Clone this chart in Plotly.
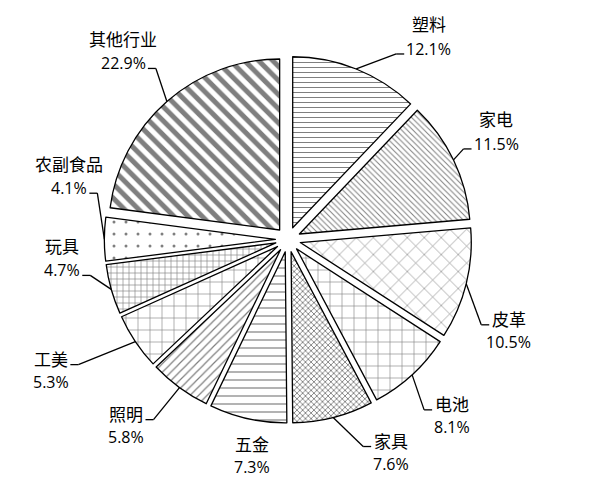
import math
import plotly.graph_objects as go

# ---- data ----
categories = ["塑料", "家电", "皮革", "电池", "家具", "五金", "照明", "工美", "玩具", "农副食品", "其他行业"]
shares = [12.1, 11.5, 10.5, 8.1, 7.6, 7.3, 5.8, 5.3, 4.7, 4.1, 22.9]

# ---- styling ----
W, H = 613, 478
CX, CY = 288, 239.5        # pie centre (px)
R0 = 171                   # slice radius (px)
PULL = 0.074
RAD = R0 * (1 + PULL)      # outer extent incl. pull

pat_shape = ["-", "\\", "x", "+", "x", "-", "/", "+", "+", ".", "\\"]
pat_size = [5, 4, 12, 12, 4, 8, 6, 12, 6, 12, 10]
pat_solid = [0.2, 0.25, 0.1, 0.1, 0.4, 0.15, 0.2, 0.1, 0.2, 0.05, 0.5]

# label layout: elbow offset from arc point, side (+1 right, -1 left, 0 none), which line sits on the tail
label_cfg = {
    "塑料": ((40, -15), 1, "pct"),
    "家电": ((10, -11), 1, "pct"),
    "皮革": ((15, 41), 1, "name"),
    "电池": ((12, 35), 1, "name"),
    "家具": ((30, 29), 1, "name"),
    "五金": ((4, 26), 0, "name"),
    "照明": ((-26, 32), -1, "name"),
    "工美": ((-57, 23), -1, "name"),
    "玩具": ((-21, -14), -1, "pct"),
    "农副食品": ((-7, -46), -1, "pct"),
    "其他行业": ((-11, -33), -1, "pct"),
}

FONT = "Open Sans, Noto Sans CJK SC"


def px2paper(x, y):
    return x / W, 1 - y / H


def est_width(s):
    w = 0
    for ch in s:
        w += 17.5 if ord(ch) > 0x2E80 else 9
    return w


fig = go.Figure(go.Pie(
    labels=categories,
    values=shares,
    sort=False,
    direction="clockwise",
    rotation=0,
    pull=[PULL] * len(shares),
    textinfo="none",
    hoverinfo="label+percent",
    showlegend=False,
    marker=dict(
        colors=["white"] * len(shares),
        line=dict(color="black", width=1.3),
        pattern=dict(shape=pat_shape, size=pat_size, solidity=pat_solid,
                     fgcolor="black", bgcolor="white", fillmode="overlay"),
    ),
    domain=dict(x=[(CX - RAD) / W, (CX + RAD) / W],
                y=[1 - (CY + RAD) / H, 1 - (CY - RAD) / H]),
))

total = sum(shares)
cum = 0.0
shapes = []
annotations = []
for cat, v in zip(categories, shares):
    mid = (cum + v / 2) / total * 2 * math.pi
    cum += v
    ax = CX + RAD * math.sin(mid)
    ay = CY - RAD * math.cos(mid)
    (dx, dy), side, tail_line = label_cfg[cat]
    ex, ey = ax + dx, ay + dy
    pct = f"{v:.1f}%"
    if side == 0:
        name_y = ey
        pct_y = name_y + 22
        cxt = ex
    else:
        tx = ex + 8 * side
        for (x0, y0), (x1, y1) in (((ax, ay), (ex, ey)), ((ex, ey), (tx, ey))):
            p0 = px2paper(x0, y0)
            p1 = px2paper(x1, y1)
            shapes.append(dict(type="line", xref="paper", yref="paper",
                               x0=p0[0], y0=p0[1], x1=p1[0], y1=p1[1],
                               line=dict(color="black", width=1.3)))
        if tail_line == "pct":
            pct_y = ey - 5
            name_y = pct_y - 24
            w = est_width(pct)
        else:
            name_y = ey - 5
            pct_y = name_y + 22.5
            w = est_width(cat)
        cxt = tx + side * (2 + w / 2)
    for txt, yy, fs in ((cat, name_y, 17), (pct, pct_y, 16)):
        px_, py_ = px2paper(cxt, yy)
        annotations.append(dict(x=px_, y=py_, xref="paper", yref="paper",
                                text=txt, showarrow=False, xanchor="center",
                                yanchor="middle",
                                font=dict(family=FONT, size=fs, color="black")))

fig.update_layout(
    width=W, height=H,
    margin=dict(l=0, r=0, t=0, b=0),
    paper_bgcolor="white",
    plot_bgcolor="white",
    shapes=shapes,
    annotations=annotations,
)

fig.write_html("out.html",
               config={"displayModeBar": False},
               post_script="document.body.style.margin='0';document.body.style.overflow='hidden';")
